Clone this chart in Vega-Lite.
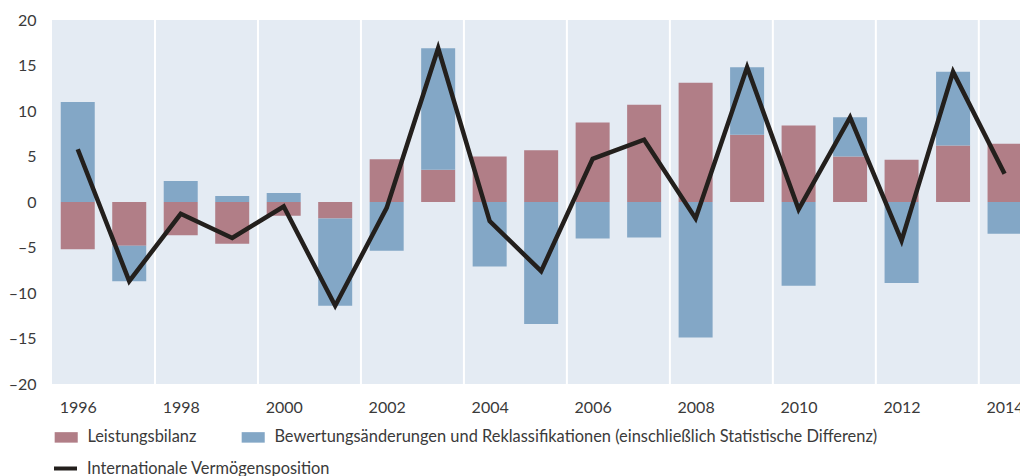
{
  "$schema": "https://vega.github.io/schema/vega-lite/v6.json",
  "autosize": "none",
  "width": 968,
  "height": 364,
  "padding": {"left": 52, "top": 20, "right": 0, "bottom": 92},
  "background": "white",
  "config": {
    "font": "Lato",
    "view": {"fill": "#e4ebf3", "stroke": null},
    "axis": {"grid": false, "ticks": false, "tickSize": 0, "domain": false, "labelFontSize": 16, "labelColor": "#3a3a3a", "labelFont": "Lato", "title": null},
    "legend": {"labelFont": "Lato", "labelFontSize": 16.4, "labelColor": "#3a3a3a", "padding": 0, "labelLimit": 0}
  },
  "datasets": {
    "grid": [
      {"year": 1997.5}, {"year": 1999.5}, {"year": 2001.5}, {"year": 2003.5},
      {"year": 2005.5}, {"year": 2007.5}, {"year": 2009.5}, {"year": 2011.5}, {"year": 2013.5}
    ],
    "bars": [
      {"year": 1996, "series": "Leistungsbilanz", "value": -5.2},
      {"year": 1996, "series": "Bewertungsänderungen und Reklassifikationen (einschließlich Statistische Differenz)", "value": 11.0},
      {"year": 1997, "series": "Leistungsbilanz", "value": -4.8},
      {"year": 1997, "series": "Bewertungsänderungen und Reklassifikationen (einschließlich Statistische Differenz)", "value": -3.9},
      {"year": 1998, "series": "Leistungsbilanz", "value": -3.65},
      {"year": 1998, "series": "Bewertungsänderungen und Reklassifikationen (einschließlich Statistische Differenz)", "value": 2.3},
      {"year": 1999, "series": "Leistungsbilanz", "value": -4.6},
      {"year": 1999, "series": "Bewertungsänderungen und Reklassifikationen (einschließlich Statistische Differenz)", "value": 0.65},
      {"year": 2000, "series": "Leistungsbilanz", "value": -1.5},
      {"year": 2000, "series": "Bewertungsänderungen und Reklassifikationen (einschließlich Statistische Differenz)", "value": 1.0},
      {"year": 2001, "series": "Leistungsbilanz", "value": -1.8},
      {"year": 2001, "series": "Bewertungsänderungen und Reklassifikationen (einschließlich Statistische Differenz)", "value": -9.6},
      {"year": 2002, "series": "Leistungsbilanz", "value": 4.7},
      {"year": 2002, "series": "Bewertungsänderungen und Reklassifikationen (einschließlich Statistische Differenz)", "value": -5.35},
      {"year": 2003, "series": "Leistungsbilanz", "value": 3.55},
      {"year": 2003, "series": "Bewertungsänderungen und Reklassifikationen (einschließlich Statistische Differenz)", "value": 13.35},
      {"year": 2004, "series": "Leistungsbilanz", "value": 5.0},
      {"year": 2004, "series": "Bewertungsänderungen und Reklassifikationen (einschließlich Statistische Differenz)", "value": -7.1},
      {"year": 2005, "series": "Leistungsbilanz", "value": 5.7},
      {"year": 2005, "series": "Bewertungsänderungen und Reklassifikationen (einschließlich Statistische Differenz)", "value": -13.4},
      {"year": 2006, "series": "Leistungsbilanz", "value": 8.75},
      {"year": 2006, "series": "Bewertungsänderungen und Reklassifikationen (einschließlich Statistische Differenz)", "value": -4.0},
      {"year": 2007, "series": "Leistungsbilanz", "value": 10.7},
      {"year": 2007, "series": "Bewertungsänderungen und Reklassifikationen (einschließlich Statistische Differenz)", "value": -3.9},
      {"year": 2008, "series": "Leistungsbilanz", "value": 13.1},
      {"year": 2008, "series": "Bewertungsänderungen und Reklassifikationen (einschließlich Statistische Differenz)", "value": -14.9},
      {"year": 2009, "series": "Leistungsbilanz", "value": 7.4},
      {"year": 2009, "series": "Bewertungsänderungen und Reklassifikationen (einschließlich Statistische Differenz)", "value": 7.4},
      {"year": 2010, "series": "Leistungsbilanz", "value": 8.4},
      {"year": 2010, "series": "Bewertungsänderungen und Reklassifikationen (einschließlich Statistische Differenz)", "value": -9.2},
      {"year": 2011, "series": "Leistungsbilanz", "value": 5.0},
      {"year": 2011, "series": "Bewertungsänderungen und Reklassifikationen (einschließlich Statistische Differenz)", "value": 4.3},
      {"year": 2012, "series": "Leistungsbilanz", "value": 4.65},
      {"year": 2012, "series": "Bewertungsänderungen und Reklassifikationen (einschließlich Statistische Differenz)", "value": -8.9},
      {"year": 2013, "series": "Leistungsbilanz", "value": 6.2},
      {"year": 2013, "series": "Bewertungsänderungen und Reklassifikationen (einschließlich Statistische Differenz)", "value": 8.1},
      {"year": 2014, "series": "Leistungsbilanz", "value": 6.4},
      {"year": 2014, "series": "Bewertungsänderungen und Reklassifikationen (einschließlich Statistische Differenz)", "value": -3.5}
    ],
    "line": [
      {"year": 1996, "series": "Internationale Vermögensposition", "value": 5.8},
      {"year": 1997, "series": "Internationale Vermögensposition", "value": -8.7},
      {"year": 1998, "series": "Internationale Vermögensposition", "value": -1.3},
      {"year": 1999, "series": "Internationale Vermögensposition", "value": -3.95},
      {"year": 2000, "series": "Internationale Vermögensposition", "value": -0.5},
      {"year": 2001, "series": "Internationale Vermögensposition", "value": -11.4},
      {"year": 2002, "series": "Internationale Vermögensposition", "value": -0.65},
      {"year": 2003, "series": "Internationale Vermögensposition", "value": 16.9},
      {"year": 2004, "series": "Internationale Vermögensposition", "value": -2.1},
      {"year": 2005, "series": "Internationale Vermögensposition", "value": -7.6},
      {"year": 2006, "series": "Internationale Vermögensposition", "value": 4.75},
      {"year": 2007, "series": "Internationale Vermögensposition", "value": 6.85},
      {"year": 2008, "series": "Internationale Vermögensposition", "value": -1.8},
      {"year": 2009, "series": "Internationale Vermögensposition", "value": 14.8},
      {"year": 2010, "series": "Internationale Vermögensposition", "value": -0.8},
      {"year": 2011, "series": "Internationale Vermögensposition", "value": 9.3},
      {"year": 2012, "series": "Internationale Vermögensposition", "value": -4.25},
      {"year": 2013, "series": "Internationale Vermögensposition", "value": 14.3},
      {"year": 2014, "series": "Internationale Vermögensposition", "value": 3.1}
    ]
  },
  "layer": [
    {
      "data": {"name": "grid"},
      "mark": {"type": "rule", "color": "#ffffff", "strokeWidth": 2},
      "encoding": {
        "x": {
          "field": "year", "type": "quantitative", "title": null,
          "scale": {"domain": [1995.5, 2014.3], "nice": false, "zero": false, "padding": 0},
          "axis": {"values": [1996, 1998, 2000, 2002, 2004, 2006, 2008, 2010, 2012, 2014], "format": "d", "labelPadding": 15, "labelFlush": false, "labelOverlap": false}
        }
      }
    },
    {
      "data": {"name": "bars"},
      "mark": {"type": "bar", "size": 34, "clip": true},
      "encoding": {
        "x": {"field": "year", "type": "quantitative", "title": null},
        "y": {
          "field": "value", "type": "quantitative", "stack": "zero", "title": null,
          "scale": {"domain": [-20, 20], "nice": false, "padding": 0},
          "axis": {"values": [-20, -15, -10, -5, 0, 5, 10, 15, 20], "labelExpr": "replace(datum.label, '−', '–')", "labelPadding": 16}
        },
        "fill": {
          "field": "series", "type": "nominal",
          "scale": {
            "domain": ["Leistungsbilanz", "Bewertungsänderungen und Reklassifikationen (einschließlich Statistische Differenz)"],
            "range": ["#b17e87", "#83a7c6"]
          },
          "legend": {
            "orient": "none", "legendX": 6, "legendY": 409, "direction": "horizontal", "title": null,
            "symbolType": "M-2.2,-1H2.2V1H-2.2Z", "symbolSize": 110, "symbolOpacity": 1,
            "labelOffset": 13, "columnPadding": 44, "labelLimit": 0
          }
        },
        "order": {"field": "series", "sort": "descending"}
      }
    },
    {
      "mark": {"type": "rule", "color": "#4d4d4d", "strokeWidth": 1.5},
      "encoding": {"y": {"datum": 0}}
    },
    {
      "data": {"name": "line"},
      "mark": {"type": "line", "strokeWidth": 4.5, "strokeJoin": "miter", "strokeCap": "butt", "strokeMiterLimit": 10},
      "encoding": {
        "x": {"field": "year", "type": "quantitative", "title": null},
        "y": {"field": "value", "type": "quantitative", "title": null},
        "stroke": {
          "field": "series", "type": "nominal",
          "scale": {"range": ["#231f1c"]},
          "legend": {
            "orient": "none", "legendX": 0, "legendY": 435, "title": null,
            "symbolType": "stroke", "symbolSize": 529, "symbolStrokeWidth": 4, "labelOffset": 8, "labelLimit": 0
          }
        }
      }
    }
  ]
}
